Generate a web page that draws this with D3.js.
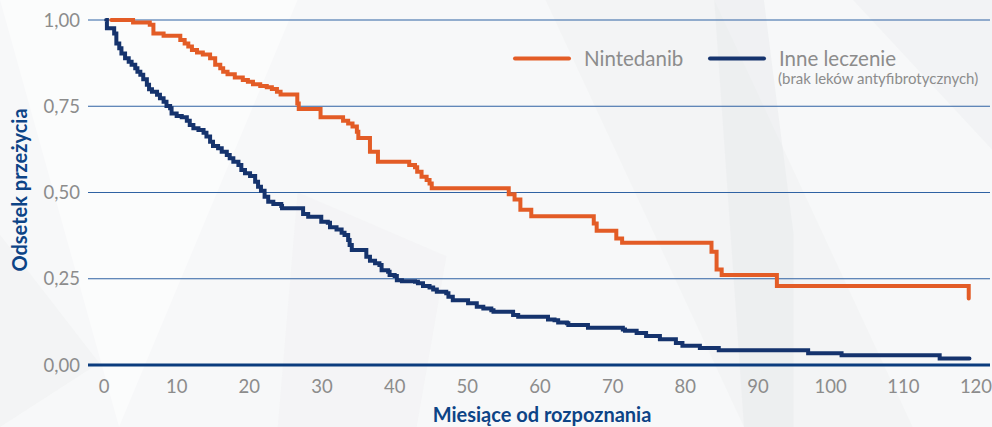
<!DOCTYPE html>
<html><head><meta charset="utf-8">
<script src="https://cdn.jsdelivr.net/npm/d3@7"></script>
<style>
html,body{margin:0;padding:0;background:#f6f7f8;}
svg{display:block;font-family:Lato,"Open Sans",sans-serif;}
</style></head>
<body><svg id="c" width="992" height="427"></svg>
<script>
// ---- data ----
const yTicks = [0, 0.25, 0.5, 0.75, 1];
const xTicks = [0,10,20,30,40,50,60,70,80,90,100,110,120];
const seriesNames = ["Nintedanib", "Inne leczenie"];
const legendSub = "(brak leków antyfibrotycznych)";
const xTitle = "Miesiące od rozpoznania";
const yTitle = "Odsetek przeżycia";

const nintedanibMonths = [1,4.0,6.3,6.8,8.2,10.5,11.1,11.6,12.1,12.8,13.6,14.6,15.3,16.0,16.4,17.0,18.0,19.1,19.8,20.5,21.5,22.4,23.1,23.8,24.3,26.6,26.8,29.8,32.9,33.6,34.2,34.8,35.0,36.6,37.7,42.0,42.8,43.1,43.7,44.4,44.8,45.1,55.7,56.5,57.3,58.8,67.4,67.8,70.5,71.3,83.6,84.3,85.0,92.6,119.0,119.0];
const nintedanibSurv = [1.0,0.993,0.986,0.961,0.954,0.942,0.932,0.923,0.913,0.906,0.900,0.889,0.870,0.860,0.850,0.843,0.833,0.826,0.821,0.814,0.809,0.805,0.800,0.792,0.784,0.758,0.742,0.718,0.708,0.700,0.691,0.676,0.658,0.618,0.589,0.580,0.573,0.560,0.546,0.536,0.526,0.512,0.495,0.480,0.450,0.431,0.410,0.389,0.367,0.354,0.328,0.277,0.261,0.229,0.229,0.193];

const otherMonths = [0.3,0.4,1.4,1.7,2.1,2.4,2.9,3.4,3.8,4.3,4.6,5.0,5.4,5.9,6.2,6.6,7.3,7.7,8.2,8.6,9.1,9.3,10.0,10.7,11.4,11.8,12.3,13.0,13.7,14.1,14.6,15.0,15.7,16.2,16.9,17.3,17.8,18.5,18.9,19.4,20.1,20.8,21.2,21.6,22.1,22.6,23.3,24.4,24.5,27.4,28.1,29.9,30.8,31.1,32.0,32.7,33.1,33.6,33.8,34.1,36.1,36.6,37.3,37.9,38.2,39.1,39.3,40.0,40.3,41.0,42.8,43.2,43.9,44.8,45.3,45.8,47.1,47.4,48.0,50.1,51.3,52.2,53.3,53.6,56.3,57.0,61.1,62.0,62.5,63.7,63.9,66.6,71.4,71.7,73.3,74.6,76.5,78.7,79.6,82.0,84.6,96.9,101.5,115.0,119.1];
const otherSurv = [1.0,0.976,0.961,0.932,0.918,0.903,0.889,0.879,0.870,0.860,0.850,0.841,0.828,0.812,0.799,0.792,0.783,0.773,0.763,0.751,0.744,0.729,0.722,0.718,0.708,0.696,0.686,0.681,0.673,0.662,0.647,0.635,0.628,0.618,0.609,0.599,0.589,0.580,0.565,0.556,0.548,0.531,0.517,0.505,0.488,0.473,0.467,0.461,0.454,0.438,0.430,0.415,0.412,0.399,0.393,0.383,0.377,0.362,0.348,0.333,0.314,0.302,0.295,0.290,0.275,0.270,0.261,0.258,0.246,0.243,0.241,0.237,0.229,0.225,0.219,0.212,0.208,0.198,0.188,0.179,0.169,0.164,0.159,0.154,0.145,0.140,0.132,0.130,0.123,0.121,0.116,0.108,0.103,0.099,0.093,0.084,0.075,0.064,0.056,0.049,0.043,0.034,0.028,0.019,0.019];

// background shards (decorative, relative units)
const shards = [
  {pts:[[0,0],[0.3,0],[0.12,1]], fill:"#ffffff", op:0.5},
  {pts:[[0.55,0],[0.72,0],[0.92,1],[0.75,1]], fill:"#f0f1f2", op:0.6},
  {pts:[[0.72,0],[0.77,0],[0.80,0.55],[0.80,1],[0.75,1]], fill:"#e6e8ea", op:0.45},
  {pts:[[0.30,0.45],[0.45,0.6],[0.42,1],[0.28,1]], fill:"#f1f2f3", op:0.6},
  {pts:[[0.86,0],[1,0],[1,0.35]], fill:"#eef0f1", op:0.6},
  {pts:[[0,0.55],[0.1,0.85],[0,1]], fill:"#f0f1f2", op:0.6}
];

const W = 992, H = 427;
const svg = d3.select("#c");
svg.append("rect").attr("width",W).attr("height",H).attr("fill","#f7f8f9");
svg.append("g").selectAll("polygon").data(shards).join("polygon")
  .attr("points", d => d.pts.map(p => [p[0]*W, p[1]*H].join(",")).join(" "))
  .attr("fill", d => d.fill).attr("opacity", d => d.op);

const x = d3.scaleLinear().domain([0,120]).range([104,976]);
const y = d3.scaleLinear().domain([0,1]).range([365,20]);
const gridL = 88, gridR = 990;

// gridlines
svg.append("g").selectAll("line").data(yTicks.filter(v=>v>0)).join("line")
  .attr("x1",gridL).attr("x2",gridR)
  .attr("y1",d=>y(d)).attr("y2",d=>y(d))
  .attr("stroke","#2f62a3").attr("stroke-width",1.2);

// y labels
svg.append("g").selectAll("text").data(yTicks).join("text")
  .attr("x",80).attr("y",d=>y(d)).attr("dy","0.36em")
  .attr("text-anchor","end").attr("fill","#8c8c8c")
  .attr("font-size",18.5).text(d=>d3.format(".2f")(d).replace(".",","));

// x labels
svg.append("g").selectAll("text").data(xTicks).join("text")
  .attr("x",d=>x(d)).attr("y",393).attr("text-anchor","middle")
  .attr("fill","#8c8c8c").attr("font-size",18.5).text(d=>d);

// curves
const line = d3.line().x(d=>x(d[0])).y(d=>y(d[1])).curve(d3.curveStepAfter);
const orangeData = nintedanibMonths.map((m,i)=>[m,nintedanibSurv[i]]);
const blueData = otherMonths.map((m,i)=>[m,otherSurv[i]]);
svg.append("path").attr("d",line(orangeData)).attr("fill","none")
  .attr("stroke","#e35c26").attr("stroke-width",4).attr("stroke-linecap","round").attr("stroke-linejoin","miter");
svg.append("path").attr("d",line(blueData)).attr("fill","none")
  .attr("stroke","#15336d").attr("stroke-width",4).attr("stroke-linecap","round").attr("stroke-linejoin","miter");

// baseline
svg.append("line").attr("x1",gridL).attr("x2",gridR).attr("y1",y(0)).attr("y2",y(0))
  .attr("stroke","#0b3c7e").attr("stroke-width",3);

// axis titles
svg.append("text").attr("x",542).attr("y",422).attr("text-anchor","middle")
  .attr("fill","#0d4486").attr("font-weight",700).attr("font-size",20).text(xTitle);
svg.append("text").attr("transform","translate(27,190) rotate(-90)").attr("text-anchor","middle")
  .attr("fill","#0d4486").attr("font-weight",700).attr("font-size",20).text(yTitle);

// legend
const legColors = ["#e35c26","#15336d"];
const legX = [515,710];
const lg = svg.append("g");
seriesNames.forEach((n,i)=>{
  lg.append("line").attr("x1",legX[i]).attr("x2",legX[i]+54).attr("y1",58.5).attr("y2",58.5)
    .attr("stroke",legColors[i]).attr("stroke-width",4).attr("stroke-linecap","round");
  lg.append("text").attr("x",legX[i]+69).attr("y",65.5).attr("fill","#8c8c8c")
    .attr("font-size",20.5).text(n);
});
lg.append("text").attr("x",legX[1]+68).attr("y",83.5).attr("fill","#8c8c8c")
  .attr("font-size",15).text(legendSub);
</script></body></html>
